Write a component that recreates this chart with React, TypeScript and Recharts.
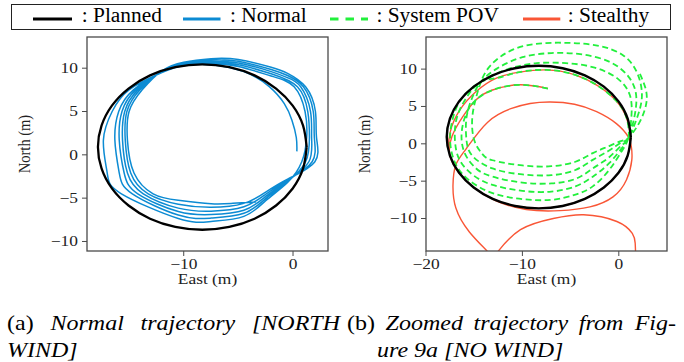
import React from "react";
import { LineChart, Line, XAxis, YAxis } from "recharts";

type Pt = [number, number]; // [east, north] in metres

// planned circle, one point every 15 degrees
const plannedPath: Pt[] = [
  [1.25, 0.9], [0.92, 3.37], [-0.03, 5.68], [-1.55, 7.65], [-3.52, 9.17], [-5.83, 10.12],
  [-8.3, 10.45], [-10.77, 10.12], [-13.08, 9.17], [-15.05, 7.65], [-16.57, 5.68], [-17.52, 3.37],
  [-17.85, 0.9], [-17.52, -1.57], [-16.57, -3.88], [-15.05, -5.85], [-13.08, -7.37], [-10.77, -8.32],
  [-8.3, -8.65], [-5.83, -8.32], [-3.52, -7.37], [-1.55, -5.85], [-0.03, -3.88], [0.92, -1.57], [1.25, 0.9],
];

// flown trajectory with north wind
const normalPath: Pt[] = [
  [0.35, 0.4], [0.3, 2.0], [-0.1, 4.0], [-0.8, 5.9], [-2.2, 7.9], [-4.5, 9.6], [-7.5, 10.4], [-10, 10.3],
  [-12.0, 9.5], [-15.0, 7.5], [-16.55, 5.0], [-17.35, 1.7], [-17.0, -2.1], [-15.7, -4.5],
  [-10.5, -7.35], [-7.5, -7.7], [-4.5, -7.1], [-2.5, -5.3],
  [-0.5, -3.2], [0.8, -0.8], [1.25, 2.0], [1.1, 5.0], [0.1, 7.85],
  [-2, 9.1], [-5, 10.2], [-7.5, 10.5], [-10, 10.3],
  [-12.0, 9.55], [-14.6, 7.5], [-15.95, 5.0], [-16.3, 1.7], [-15.9, -2.1], [-14.7, -4.5],
  [-10.5, -6.95], [-7.5, -7.3], [-4.5, -6.75], [-2.5, -5.05],
  [-0.5, -3.1], [1.15, -0.8], [1.5, 2.0], [1.35, 5.0], [0.4, 7.85],
  [-2, 9.35], [-5, 10.4], [-7.5, 10.65], [-10, 10.4],
  [-12.0, 9.6], [-14.4, 7.5], [-15.65, 5.0], [-15.9, 1.7], [-15.45, -2.1], [-14.2, -4.5],
  [-10.5, -6.55], [-7.5, -6.9], [-4.5, -6.4], [-2.5, -4.8],
  [-0.5, -3.0], [1.45, -0.8], [1.7, 2.0], [1.6, 5.0], [0.7, 7.85],
  [-0.5, 8.9], [-2, 9.6], [-5, 10.6], [-7.5, 10.8], [-10, 10.5],
  [-12.0, 9.6], [-14.2, 7.5], [-15.4, 5.0], [-15.6, 1.7], [-15.15, -2.1], [-13.7, -4.5],
  [-10.5, -6.15], [-7.5, -6.5], [-4.5, -6.0], [-2.5, -4.55],
  [-0.5, -2.9], [1.75, -0.8], [1.95, 2.0], [1.85, 5.0], [0.95, 7.85],
  [-0.5, 9.15], [-2, 9.85], [-5, 10.8], [-7.5, 10.95], [-10, 10.6],
  [-12.0, 9.65], [-14.0, 7.5], [-15.2, 5.0], [-15.35, 1.7], [-14.85, -2.1], [-13.25, -4.5],
  [-10.5, -5.7], [-7.5, -6.05], [-4.5, -5.6], [-2.5, -4.3],
  [-0.5, -2.8], [2.0, -0.8], [2.15, 2.0], [2.05, 5.0], [1.15, 7.85],
  [-0.5, 9.4], [-2, 10.1], [-5, 11.0], [-7.5, 11.1], [-10, 10.7],
  [-12.0, 9.7], [-13.8, 7.5], [-15.0, 5.0], [-15.15, 1.7], [-14.55, -2.1], [-12.8, -4.5],
  [-10.5, -5.25], [-7.5, -5.65], [-5.5, -5.6], [-3.4, -5.45],
];

// position as reported to the flight controller
const systemPovPath: Pt[] = [
  [-7.35, 7.4], [-10.3, 7.9], [-13.1, 7.2], [-14.8, 5.9], [-15.8, 4.1], [-16.3, 1.5], [-16.0, -1.2],
  [-14.8, -3.3], [-13.1, -4.4], [-10, -5.2], [-7, -5.3], [-4.5, -4.7], [-2.7, -3.3], [-1.0, -1.8], [0.3, -0.2], [1.0, 0.8],
  [0.8, 3.5], [-0.3, 5.8], [-2.2, 7.8], [-4.7, 9.3], [-7.5, 9.9], [-10.3, 9.6], [-12.7, 8.8], [-14.3, 8.3],
  [-16.2, 6.2], [-17.2, 3.5], [-17.5, 0.5], [-17.0, -2.5], [-15.6, -4.8], [-13.1, -6.6], [-10, -7.4], [-7, -7.5],
  [-4.5, -6.8], [-2.7, -5.7], [-1.0, -3.5], [0.3, -1.0], [1.0, 0.8],
  [1.3, 3.5], [1.2, 6.3], [0.0, 8.6], [-2.5, 10.2], [-5.5, 10.8], [-8.5, 10.8], [-11.5, 10.0], [-14.3, 8.3],
  [-15.8, 6.2], [-16.8, 3.5], [-17.0, 0.5], [-16.5, -2.2], [-15.1, -4.2], [-13.1, -5.5], [-10, -6.3], [-7, -6.4],
  [-4.5, -5.7], [-2.7, -4.4], [-1.0, -2.6], [0.3, -0.6], [1.0, 0.8],
  [1.6, 3.5], [1.8, 6.5], [1.0, 9.0], [-1.0, 11.0], [-4, 12.0], [-7, 12.15], [-10, 11.6], [-12.6, 10.1], [-14.3, 8.3],
  [-15.2, 6.2], [-15.8, 3.5], [-15.8, 0.5], [-15.2, -1.6], [-13.1, -3.3], [-10, -4.1], [-7, -4.2],
  [-4.5, -3.5], [-2.7, -2.15], [-1.0, -0.9], [0.3, 0.2], [1.0, 0.8],
  [1.9, 3.5], [2.4, 6.5], [1.9, 9.5], [0.5, 11.8], [-2, 13.1], [-5, 13.5], [-8, 13.45], [-11, 12.6], [-13.3, 10.5], [-14.3, 8.3],
  [-14.8, 6.2], [-15.2, 3.5], [-15.0, 0.5], [-14.2, -1.3], [-13.1, -2.2], [-10, -2.9], [-7, -3.0],
  [-4.5, -2.4], [-2.7, -1.25], [-1.0, -0.3], [0.3, 0.4], [1.0, 0.8],
  [2.2, 3.0], [2.9, 5.9], [2.6, 8.1], [2.07, 9.7],
];

// actual position under the stealthy attack
const stealthyPath: Pt[] = [
  [-7.35, 7.4], [-10.3, 7.9], [-13.1, 7.2], [-14.8, 5.9], [-16.2, 3.6], [-17.3, 1.0],
  [-17.52, -1.57], [-16.57, -3.88], [-15.05, -5.85], [-13.08, -7.37], [-10.77, -8.32], [-8.3, -8.65],
  [-5.83, -8.32], [-3.52, -7.37], [-1.55, -5.85], [-0.03, -3.88], [0.92, -1.57], [1.2, 0.9],
  [0.8, 3.5], [-0.3, 5.8], [-2.2, 7.8], [-4.7, 9.3], [-7.5, 9.9], [-10.3, 9.6], [-12.7, 8.8],
  [-14.8, 7.0], [-16.5, 4.5], [-17.5, 1.5],
  [-17.52, -1.57], [-16.57, -3.88], [-15.05, -5.85], [-12.8, -7.6],
  [-9.6, -8.8], [-6.1, -8.95], [-3.0, -8.45], [-0.6, -7.1], [0.8, -4.8], [1.35, -2.15], [1.3, -0.36], [0.97, 0.95],
  [-0.25, 2.7], [-2.3, 4.3], [-4.6, 5.3], [-7.1, 5.6], [-9.2, 5.4], [-11.2, 4.7], [-13.6, 2.9], [-15.8, -0.6],
  [-16.9, -2.8], [-17.2, -5.5], [-16.9, -8.6], [-15.5, -11.8], [-13.6, -14.45], [-13.1, -15.3], [-12.55, -14.45],
  [-10.2, -11.5], [-6.8, -10.0], [-3.65, -9.5], [-0.2, -10.4], [1.4, -12.0], [1.7, -13.3], [1.75, -15],
];

const eastTicksA = [-10, 0];
const eastTicksB = [-20, -10, 0];
const northTicks = [-10, -5, 0, 5, 10];

const PLANNED = "#000000";
const NORMAL = "#0c8bd3";
const POV = "#22f03c";
const STEALTHY = "#f95636";
const SPINE = "#4a4a4a";
const SERIF = '"Liberation Serif", "Times New Roman", serif';
const STRETCH = 1.2;

const rows = (pts: Pt[]) => pts.map(([east, north]) => ({ east, north }));
const fmt = (v: number) => (v < 0 ? `\u2212${Math.abs(v)}` : String(v));

const EastTick = ({ x, y, payload }: any) => (
  <text
    transform={`translate(${x},${y}) scale(${STRETCH},1)`}
    textAnchor="middle"
    dy="0.7em"
    fontSize={14.5}
    fontFamily={SERIF}
    fill="#222"
  >
    {fmt(payload.value)}
  </text>
);

const NorthTick = ({ x, y, payload }: any) => (
  <text
    transform={`translate(${x},${y}) scale(${STRETCH},1)`}
    textAnchor="end"
    dy="0.34em"
    fontSize={14.5}
    fontFamily={SERIF}
    fill="#222"
  >
    {fmt(payload.value)}
  </text>
);

interface PanelProps {
  left: number;
  axisWidth: number;
  rightGap: number;
  east: [number, number];
  north: [number, number];
  eastTicks: number[];
  children: React.ReactNode;
}

const Panel = ({ left, axisWidth, rightGap, east, north, eastTicks, children }: PanelProps) => (
  <div style={{ position: "absolute", left, top: 0 }}>
    <LineChart width={340} height={300} margin={{ top: 37, right: rightGap, bottom: 19, left: 0 }}>
      <XAxis
        type="number"
        dataKey="east"
        domain={east}
        ticks={eastTicks}
        interval={0}
        allowDataOverflow
        axisLine={false}
        tickLine={{ stroke: SPINE }}
        tickSize={5}
        tickMargin={3}
        height={30}
        tick={<EastTick />}
      />
      <YAxis
        type="number"
        domain={north}
        ticks={northTicks}
        interval={0}
        allowDataOverflow
        axisLine={false}
        tickLine={{ stroke: SPINE }}
        tickSize={5}
        tickMargin={4}
        width={axisWidth}
        tick={<NorthTick />}
      />
      {children}
    </LineChart>
  </div>
);

const title = { fontFamily: SERIF, fontSize: 14.5, fill: "#222" };
const cap = { fontFamily: SERIF, fontSize: 20, fill: "#000" };

// caption word, stretched like the rest of the figure text
const Word = ({ x, y, text, italic = true, end = false, sx = STRETCH }: { x: number; y: number; text: string; italic?: boolean; end?: boolean; sx?: number }) => (
  <text
    transform={`translate(${x},${y}) scale(${sx},1)`}
    textAnchor={end ? "end" : "start"}
    fontStyle={italic ? "italic" : "normal"}
    {...cap}
  >
    {text}
  </text>
);

const LEG = 1.07;

export default function App() {
  return (
    <div style={{ position: "relative", width: 684, height: 362, background: "#fff", overflow: "hidden" }}>
      <style>{"body{margin:0}"}</style>

      <Panel left={0} axisWidth={87} rightGap={12} east={[-18.85, 3.2]} north={[-11.1, 13.6]} eastTicks={eastTicksA}>
        <Line data={rows(normalPath)} dataKey="north" type="natural" stroke={NORMAL} strokeWidth={1.5} dot={false} activeDot={false} isAnimationActive={false} />
        <Line data={rows(plannedPath)} dataKey="north" type="natural" stroke={PLANNED} strokeWidth={2.3} dot={false} activeDot={false} isAnimationActive={false} />
      </Panel>

      <Panel left={340} axisWidth={86} rightGap={13} east={[-20, 5]} north={[-14.35, 14.3]} eastTicks={eastTicksB}>
        <Line data={rows(stealthyPath)} dataKey="north" type="natural" stroke={STEALTHY} strokeWidth={1.4} dot={false} activeDot={false} isAnimationActive={false} />
        <Line data={rows(systemPovPath)} dataKey="north" type="natural" stroke={POV} strokeWidth={1.8} strokeDasharray="6 3.5" dot={false} activeDot={false} isAnimationActive={false} />
        <Line data={rows(plannedPath)} dataKey="north" type="natural" stroke={PLANNED} strokeWidth={2.4} dot={false} activeDot={false} isAnimationActive={false} />
      </Panel>

      <svg width={684} height={362} style={{ position: "absolute", left: 0, top: 0, pointerEvents: "none" }}>
        {/* axes frames */}
        <rect x={87} y={37} width={241} height={214} fill="none" stroke={SPINE} strokeWidth={1.3} />
        <rect x={426} y={37} width={241} height={214} fill="none" stroke={SPINE} strokeWidth={1.3} />

        {/* axis titles */}
        <text transform={`translate(207.5,279) scale(${STRETCH},1)`} textAnchor="middle" dominantBaseline="central" {...title}>East (m)</text>
        <text transform={`translate(546.5,279) scale(${STRETCH},1)`} textAnchor="middle" dominantBaseline="central" {...title}>East (m)</text>
        <text transform={`translate(24.5,144) scale(${STRETCH},1) rotate(-90)`} textAnchor="middle" dominantBaseline="central" {...title}>North (m)</text>
        <text transform={`translate(364.5,144) scale(${STRETCH},1) rotate(-90)`} textAnchor="middle" dominantBaseline="central" {...title}>North (m)</text>

        {/* legend */}
        <rect x={11.5} y={4.5} width={659} height={25} fill="#fff" stroke="#222" strokeWidth={1} />
        <line x1={33} x2={72} y1={19} y2={19} stroke={PLANNED} strokeWidth={2.8} />
        <Word x={81.7} y={21.7} text=": Planned" italic={false} sx={LEG} />
        <line x1={183} x2={220.5} y1={19} y2={19} stroke={NORMAL} strokeWidth={2.8} />
        <Word x={230} y={21.7} text=": Normal" italic={false} sx={LEG} />
        <line x1={330} x2={368} y1={19} y2={19} stroke={POV} strokeWidth={2.8} strokeDasharray="8.5 7" />
        <Word x={376.4} y={21.7} text=": System POV" italic={false} sx={LEG} />
        <line x1={523} x2={560.3} y1={19} y2={19} stroke={STEALTHY} strokeWidth={2.8} />
        <Word x={567.7} y={21.7} text=": Stealthy" italic={false} sx={LEG} />

        {/* sub-captions */}
        <Word x={7} y={329.5} text="(a)" italic={false} />
        <Word x={50.5} y={329.5} text="Normal" />
        <Word x={140.6} y={329.5} text="trajectory" />
        <Word x={340} y={329.5} text="[NORTH" end />
        <Word x={7} y={357} text="WIND]" />

        <Word x={347} y={329.5} text="(b)" italic={false} />
        <Word x={385.6} y={329.5} text="Zoomed" />
        <Word x={473.5} y={329.5} text="trajectory" />
        <Word x={578.8} y={329.5} text="from" />
        <Word x={676} y={329.5} text="Fig-" end />
        <Word x={377} y={357} text="ure 9a [NO WIND]" />
      </svg>
    </div>
  );
}
